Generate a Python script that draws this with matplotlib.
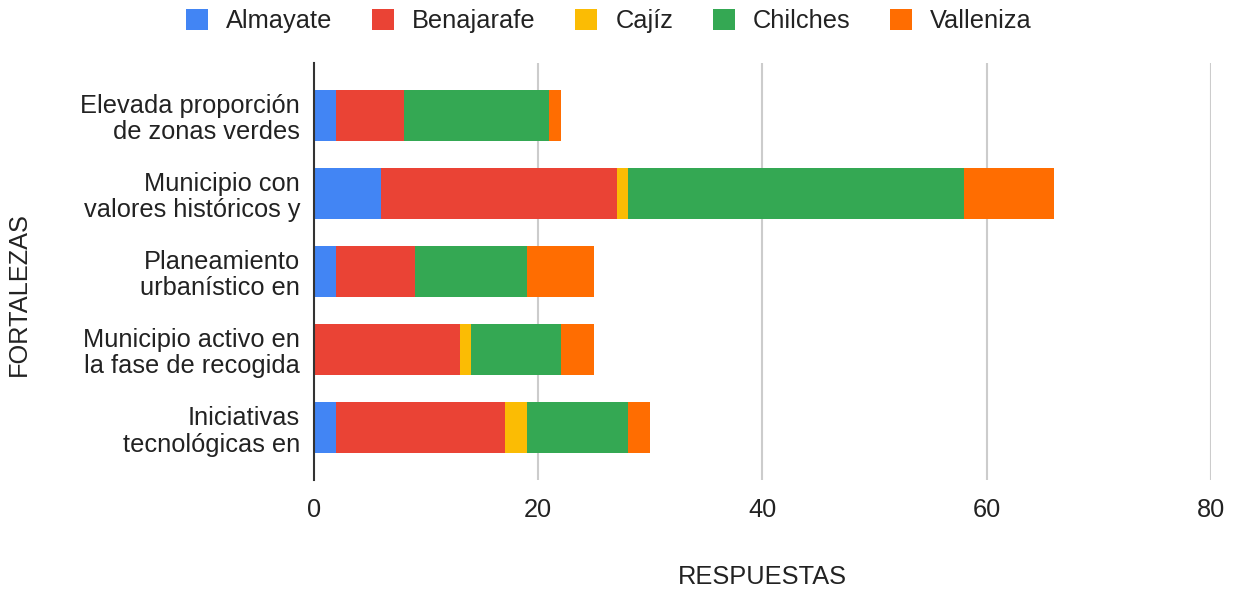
import matplotlib
matplotlib.use("Agg")
import matplotlib.pyplot as plt
from matplotlib.patches import Patch

categories = ["Elevada proporción\nde zonas verdes",
              "Municipio con\nvalores históricos y",
              "Planeamiento\nurbanístico en",
              "Municipio activo en\nla fase de recogida",
              "Iniciativas\ntecnológicas en"]
series_names = ["Almayate", "Benajarafe", "Cajíz", "Chilches", "Valleniza"]
almayate = [2, 6, 2, 0, 2]
benajarafe = [6, 21, 7, 13, 15]
cajiz = [0, 1, 0, 1, 2]
chilches = [13, 30, 10, 8, 9]
valleniza = [1, 8, 6, 3, 2]
colors = ["#4285f4", "#ea4335", "#fbbc04", "#34a853", "#ff6d01"]
xticks = [0, 20, 40, 60, 80]

plt.rcParams['font.family'] = ['Liberation Sans', 'DejaVu Sans']
fs = 18.3
fig = plt.figure(figsize=(12.39, 5.92), dpi=100)
ax = fig.add_axes([0.2534, 0.189, 0.724, 0.7046])

data = [almayate, benajarafe, cajiz, chilches, valleniza]
y = list(range(len(categories)))
left = [0] * len(categories)
for name, vals, c in zip(series_names, data, colors):
    ax.barh(y, vals, left=left, height=0.65, color=c, label=name, zorder=3)
    left = [l + v for l, v in zip(left, vals)]

ax.set_ylim(4.67, -0.67)
ax.set_xlim(0, 80)
ax.set_xticks(xticks)
ax.set_yticks(y)
ax.set_yticklabels(categories, fontsize=fs, color="#222222", linespacing=1.12)
ax.tick_params(axis='x', labelsize=fs, colors="#222222", length=0, pad=13)
ax.tick_params(axis='y', length=0, pad=10)
for s in ["top", "right", "bottom"]:
    ax.spines[s].set_visible(False)
ax.spines["left"].set_color("#333333")
ax.spines["left"].set_linewidth(1.5)
ax.spines["left"].set_zorder(4)
for xv in xticks[1:]:
    ax.axvline(xv, color="#cccccc", linewidth=1.5, zorder=1)

ax.set_xlabel("RESPUESTAS", fontsize=fs, color="#222222", labelpad=31)
fig.text(0.0155, 0.503, "FORTALEZAS", rotation=90, fontsize=fs, color="#222222",
         va="center", ha="center")

handles = [Patch(facecolor=c, label=n) for n, c in zip(series_names, colors)]
fig.legend(handles=handles, loc="center", bbox_to_anchor=(0.4915, 0.964), ncol=5,
           frameon=False, fontsize=fs, handlelength=0.87, handleheight=0.87,
           columnspacing=1.55, handletextpad=0.71, labelcolor="#222222")

fig.savefig("out.png", dpi=100)
